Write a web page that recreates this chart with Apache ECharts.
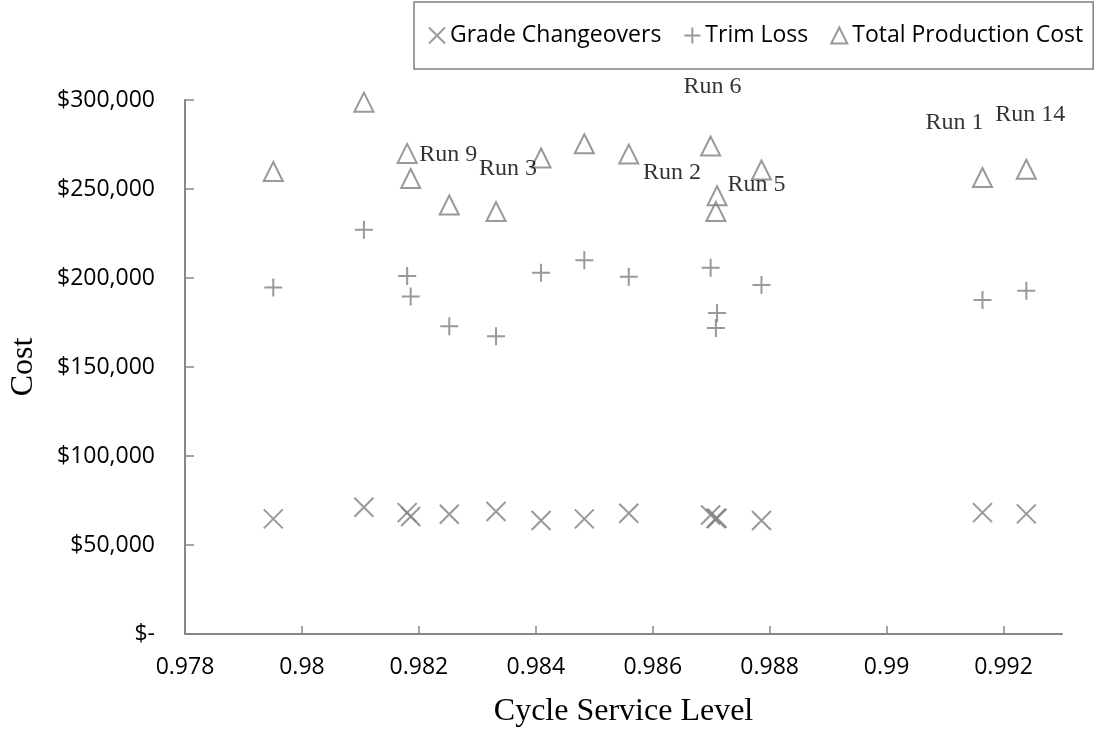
<!DOCTYPE html>
<html>
<head>
<meta charset="utf-8">
<script src="https://cdn.jsdelivr.net/npm/echarts@6/dist/echarts.min.js"></script>
<style>
html,body{margin:0;padding:0;background:#fff;}
#chart{width:1097px;height:733px;}
</style>
</head>
<body>
<div id="chart"></div>
<script>
// ---- data ----
const serviceLevel = [0.97951, 0.98106, 0.98180, 0.98186, 0.98252, 0.98332, 0.98409, 0.98483, 0.98559, 0.98699, 0.98710, 0.98708, 0.98786, 0.99164, 0.99239];
const gradeChangeovers = [64700, 71200, 68200, 66000, 67300, 68800, 63800, 64700, 67800, 66900, 65000, 64900, 63800, 68200, 67500];
const trimLoss = [194600, 227100, 201100, 189600, 172900, 167300, 202900, 210000, 200700, 205700, 180300, 171900, 196000, 187700, 192900];
const totalCost = [259800, 298800, 270000, 255900, 241000, 237300, 267400, 275400, 269600, 274100, 246200, 237300, 260700, 256500, 261100];
const runLabels = ['', '', 'Run 9', '', '', 'Run 3', '', '', '', 'Run 6', 'Run 2', '', 'Run 5', 'Run 1', 'Run 14'];
const xTicks = [0.978, 0.98, 0.982, 0.984, 0.986, 0.988, 0.99, 0.992];
const seriesNames = ['Grade Changeovers', 'Trim Loss', 'Total Production Cost'];
const xTitle = 'Cycle Service Level';
const yTitle = 'Cost';

// ---- styling / layout (not data) ----
const GRAY = '#7f7f7f';
const AXIS = '#878787';
const labelOffsets = {
  'Run 9': [41, 1], 'Run 3': [12, -43], 'Run 6': [2, -59], 'Run 2': [-45, -23],
  'Run 5': [-5, 15], 'Run 1': [-28, -55], 'Run 14': [4, -55]
};

function pairs(ys) { return serviceLevel.map((x, i) => [x, ys[i]]); }

const totalData = serviceLevel.map((x, i) => {
  const name = runLabels[i];
  const item = { value: [x, totalCost[i]] };
  if (name) {
    item.label = {
      show: true, formatter: name, position: 'inside', offset: labelOffsets[name],
      color: '#000', fontFamily: 'Liberation Serif', fontSize: 24,
      textBorderWidth: 0, textShadowBlur: 0
    };
  }
  return item;
});

const chart = echarts.init(document.getElementById('chart'), null, { renderer: 'canvas' });
chart.setOption({
  animation: false,
  backgroundColor: '#fff',
  grid: { left: 185, right: 35, top: 100, bottom: 95, containLabel: false },
  legend: {
    left: 414, top: 2,
    padding: [22, 10, 22, 14],
    borderColor: GRAY, borderWidth: 1.5,
    itemWidth: 16, itemHeight: 16, itemGap: 22,
    textStyle: { fontFamily: 'Open Sans', fontSize: 23, color: '#000' },
    data: seriesNames
  },
  xAxis: {
    type: 'value', min: 0.978, max: 0.993,
    name: xTitle, nameLocation: 'middle', nameGap: 62,
    nameTextStyle: { fontFamily: 'Liberation Serif', fontSize: 32, color: '#000' },
    axisLine: { show: true, lineStyle: { color: AXIS, width: 2 } },
    axisTick: { show: true, inside: true, length: 8, lineStyle: { color: AXIS, width: 1.5 }, customValues: xTicks },
    axisLabel: {
      customValues: xTicks, margin: 22,
      fontFamily: 'Open Sans', fontSize: 23, color: '#000',
      formatter: v => String(+(+v).toFixed(3))
    },
    splitLine: { show: false }
  },
  yAxis: {
    type: 'value', min: 0, max: 300000, interval: 50000,
    name: yTitle, nameLocation: 'middle', nameGap: 145,
    nameTextStyle: { fontFamily: 'Liberation Serif', fontSize: 32, color: '#000' },
    axisLine: { show: true, lineStyle: { color: AXIS, width: 2 } },
    axisTick: { show: true, inside: true, length: 9, lineStyle: { color: AXIS, width: 1.5 } },
    axisLabel: {
      margin: 30, fontFamily: 'Open Sans', fontSize: 23, color: '#000',
      formatter: v => v === 0 ? '$-' : '$' + v.toLocaleString('en-US')
    },
    splitLine: { show: false }
  },
  series: [
    {
      name: seriesNames[0], type: 'scatter',
      symbol: 'path://M0,0L20,20M20,0L0,20', symbolSize: 19,
      itemStyle: { color: 'rgba(0,0,0,0)', borderColor: GRAY, borderWidth: 2 },
      emphasis: { disabled: true },
      data: pairs(gradeChangeovers)
    },
    {
      name: seriesNames[1], type: 'scatter',
      symbol: 'path://M10,0L10,20M0,10L20,10', symbolSize: 18,
      itemStyle: { color: 'rgba(0,0,0,0)', borderColor: GRAY, borderWidth: 2 },
      emphasis: { disabled: true },
      data: pairs(trimLoss)
    },
    {
      name: seriesNames[2], type: 'scatter',
      symbol: 'triangle', symbolSize: 19,
      itemStyle: { color: 'rgba(0,0,0,0)', borderColor: GRAY, borderWidth: 2 },
      emphasis: { disabled: true },
      data: totalData
    }
  ]
});
</script>
</body>
</html>
